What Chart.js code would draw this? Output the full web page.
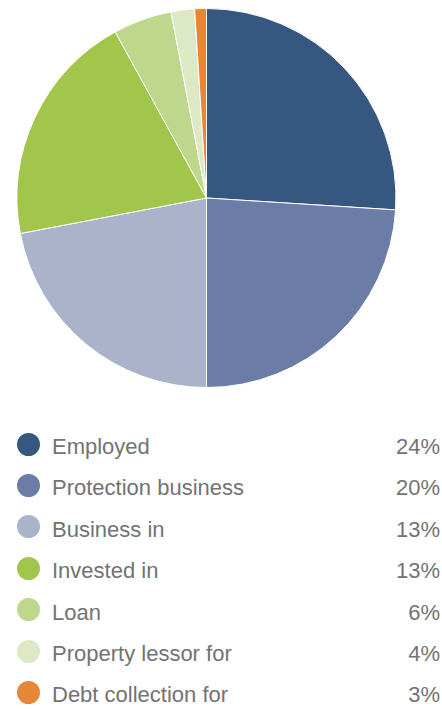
<!DOCTYPE html>
<html>
<head>
<meta charset="utf-8">
<script src="https://cdn.jsdelivr.net/npm/chart.js@4"></script>
<style>
  html, body { margin: 0; padding: 0; background: #fff; }
  body { width: 442px; height: 709px; position: relative; overflow: hidden; }
  #pie-wrap { position: absolute; left: 0; top: 8px; width: 413px; height: 380px; }
  #legend { position: absolute; left: 0; top: 0; width: 442px; }
  .row { position: absolute; left: 0; width: 440px; height: 30px; line-height: 30px;
         font-family: "Liberation Sans", Arial, sans-serif;
         font-size: 22px; color: #737373; }
  .dot { position: absolute; left: 17px; top: 0.5px; width: 23px; height: 23px; border-radius: 50%; }
  .lbl { position: absolute; left: 52px; top: 0; }
  .pct { position: absolute; right: 0; top: 0; }
</style>
</head>
<body>
<div id="pie-wrap"><canvas id="pie"></canvas></div>
<div id="legend"></div>
<script>
var categories = ['Employed', 'Protection business', 'Business in', 'Invested in', 'Loan', 'Property lessor for', 'Debt collection for'];
var shares = [26, 24, 22, 20, 5, 2, 1];
var legendPercents = [24, 20, 13, 13, 6, 4, 3];
var colors = ['#36577f', '#6b7da6', '#aab3c9', '#a2c54b', '#bfd78c', '#dde9c4', '#e88637'];

var ctx = document.getElementById('pie').getContext('2d');
var pie = new Chart(ctx, {
    type: 'pie',
    data: {
        labels: categories,
        datasets: [{
            data: shares,
            backgroundColor: colors,
            borderColor: '#ffffff',
            borderWidth: 1
        }]
    },
    options: {
        responsive: true,
        maintainAspectRatio: false,
        animation: false,
        layout: { padding: 0 },
        plugins: {
            legend: { display: false },
            tooltip: { enabled: false }
        }
    }
});

// legend rows below the pie
var legend = document.getElementById('legend');
categories.forEach(function(name, i) {
    var row = document.createElement('div');
    row.className = 'row';
    row.style.top = (432 + i * 41.4) + 'px';
    row.innerHTML = '<span class="dot" style="background:' + colors[i] + '"></span>' +
        '<span class="lbl">' + name + '</span>' +
        '<span class="pct">' + legendPercents[i] + '%</span>';
    legend.appendChild(row);
});
</script>
</body>
</html>
